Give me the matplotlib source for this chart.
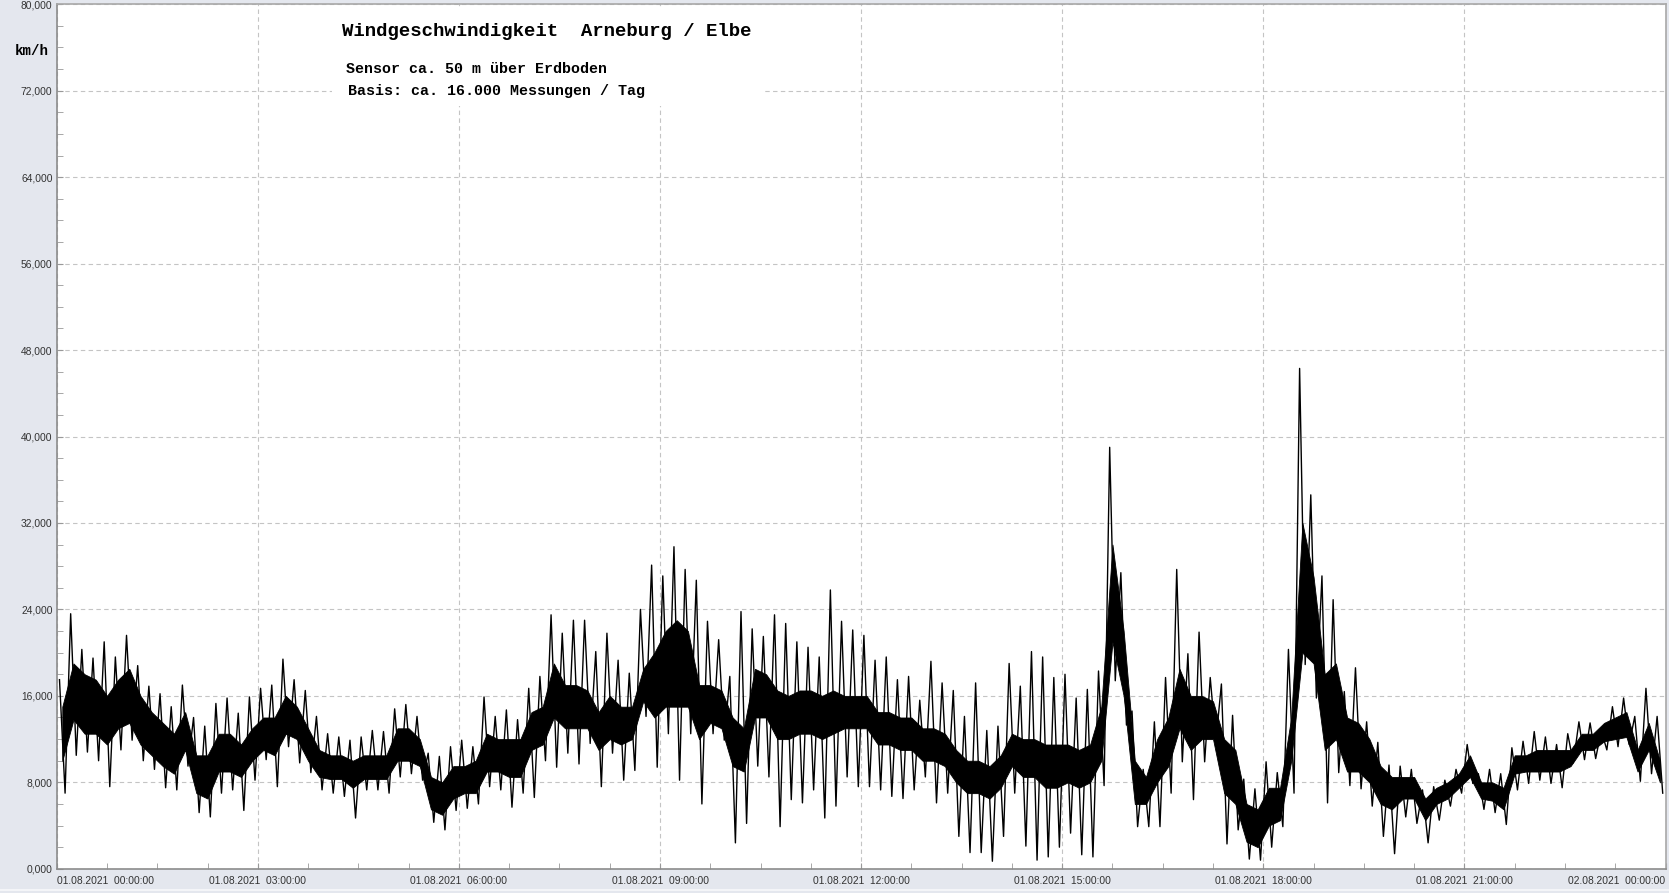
import numpy as np
import matplotlib.pyplot as plt
from matplotlib.patches import Rectangle
from matplotlib.ticker import MultipleLocator, FuncFormatter

# wind speed km/h per 10 minute slot, 01.08.2021 00:00 .. 24:00
# hi / lo: strongest up / down excursions in the slot
hi = [17.5, 23.6, 20.3, 19.5, 21.0, 19.6,
      21.6, 18.8, 16.9, 16.2, 15.0, 17.0,
      14.0, 13.2, 15.3, 15.8, 14.4, 15.9,
      16.7, 17.0, 19.4, 17.5, 16.5, 14.1,
      12.5, 12.2, 11.9, 12.2, 12.8, 12.7,
      14.8, 15.2, 14.1, 10.7, 10.4, 11.3,
      11.9, 11.3, 15.9, 14.1, 14.7, 13.8,
      16.7, 17.8, 23.5, 21.8, 23.0, 23.0,
      20.1, 21.8, 19.3, 18.1, 24.0, 28.1,
      27.1, 29.8, 27.7, 26.7, 22.9, 21.2,
      17.8, 23.8, 22.2, 21.5, 23.5, 22.7,
      21.0, 20.5, 19.6, 25.8, 22.9, 22.1,
      21.6, 19.3, 19.6, 17.5, 17.8, 15.6,
      19.2, 17.2, 16.5, 14.1, 17.2, 12.8,
      13.2, 19.0, 16.9, 20.1, 19.6, 17.7,
      18.0, 15.8, 16.6, 18.3, 39.0, 27.4,
      14.6, 9.2, 13.6, 17.7, 27.7, 19.9,
      21.9, 17.7, 17.1, 14.2, 8.3, 7.4,
      9.9, 8.9, 20.3, 46.3, 34.6, 27.1,
      24.9, 16.4, 18.6, 13.6, 11.7, 9.6,
      9.5, 9.2, 7.3, 7.6, 8.2, 9.2,
      11.5, 8.8, 9.2, 8.8, 11.2, 11.8,
      12.7, 12.2, 11.5, 12.5, 13.6, 13.5,
      12.8, 15.0, 15.8, 14.1, 16.7, 14.1]
lo = [7.0, 10.5, 10.8, 10.0, 7.6, 11.0,
      11.9, 10.0, 9.2, 7.5, 7.3, 9.5,
      5.2, 4.8, 7.0, 7.3, 5.4, 8.2,
      10.1, 7.6, 11.3, 9.8, 8.9, 7.3,
      7.0, 6.7, 4.7, 7.3, 7.3, 7.0,
      8.5, 8.8, 8.2, 4.3, 3.6, 5.4,
      5.6, 6.0, 7.6, 7.3, 5.7, 7.0,
      6.6, 10.0, 9.4, 10.7, 9.7, 11.6,
      7.6, 10.7, 8.2, 9.1, 14.1, 9.4,
      12.5, 8.2, 12.5, 6.0, 12.5, 11.9,
      2.4, 4.2, 9.5, 8.5, 3.9, 6.4,
      6.1, 7.3, 4.7, 5.8, 8.5, 7.6,
      7.6, 7.3, 6.7, 6.5, 7.3, 8.5,
      6.1, 7.0, 3.0, 1.5, 1.5, 0.7,
      3.0, 7.0, 2.1, 0.8, 1.1, 2.0,
      3.3, 1.3, 1.1, 7.7, 17.4, 13.3,
      3.9, 3.9, 3.9, 7.0, 9.9, 6.4,
      9.9, 11.7, 2.3, 3.6, 0.9, 0.8,
      2.0, 3.9, 7.0, 18.9, 15.8, 6.1,
      8.9, 7.7, 7.4, 5.8, 3.0, 1.4,
      4.8, 4.2, 2.4, 4.5, 5.8, 7.0,
      7.9, 5.5, 5.2, 4.1, 7.3, 7.9,
      8.2, 7.9, 7.5, 9.8, 10.1, 10.2,
      11.0, 11.3, 11.5, 8.1, 8.8, 7.0]
# dense core of the signal in each slot
core_hi = [15.0, 19.0, 18.0, 17.5, 16.0, 17.5,
           18.5, 16.0, 14.5, 13.5, 12.5, 14.5,
           10.5, 10.5, 12.5, 12.5, 11.5, 13.0,
           14.0, 14.0, 16.0, 15.0, 13.0, 11.0,
           10.5, 10.5, 10.0, 10.5, 10.5, 10.5,
           13.0, 13.0, 12.0, 8.5, 8.0, 9.5,
           9.5, 10.0, 12.5, 12.0, 12.0, 12.0,
           14.5, 15.0, 19.0, 17.0, 17.0, 16.5,
           14.5, 16.0, 15.0, 15.0, 18.5, 20.0,
           22.0, 23.0, 22.0, 17.0, 17.0, 16.5,
           14.0, 13.0, 18.5, 18.0, 16.5, 16.0,
           16.5, 16.5, 16.0, 16.5, 16.0, 16.0,
           16.0, 14.5, 14.5, 14.0, 14.0, 13.0,
           13.0, 12.5, 11.0, 10.0, 10.0, 9.5,
           10.5, 12.5, 12.0, 12.0, 11.5, 11.5,
           11.5, 11.0, 11.5, 15.0, 30.0, 22.0,
           10.0, 8.5, 12.0, 14.0, 18.5, 16.0,
           16.0, 15.5, 12.0, 11.0, 6.0, 5.5,
           7.5, 7.5, 14.0, 32.0, 27.0, 18.0,
           19.0, 14.0, 13.5, 12.0, 9.5, 8.5,
           8.5, 8.5, 6.5, 7.5, 8.0, 8.8,
           10.5, 8.0, 8.0, 7.5, 10.5, 10.5,
           11.0, 11.0, 11.0, 11.0, 12.5, 12.5,
           13.5, 14.0, 14.5, 11.0, 13.5, 10.0]
core_lo = [10.0, 13.8, 12.5, 12.5, 11.5, 13.0,
           13.5, 11.5, 10.5, 9.5, 8.8, 11.0,
           7.0, 6.5, 9.0, 9.0, 8.5, 10.0,
           11.0, 10.5, 12.5, 12.0, 10.0, 8.5,
           8.3, 8.3, 7.5, 8.3, 8.3, 8.3,
           10.0, 10.0, 9.5, 5.5, 5.0, 6.5,
           7.0, 7.0, 9.0, 9.0, 8.5, 8.5,
           11.0, 11.5, 14.0, 13.0, 13.0, 13.0,
           11.0, 12.0, 11.5, 12.0, 15.5, 14.0,
           15.0, 15.0, 15.0, 12.0, 13.5, 13.0,
           9.5, 9.0, 14.0, 14.0, 12.0, 12.0,
           12.5, 12.5, 12.0, 12.5, 13.0, 13.0,
           13.0, 11.5, 11.5, 11.0, 11.0, 10.0,
           10.0, 9.5, 8.0, 7.0, 7.0, 6.5,
           7.5, 9.5, 8.5, 8.5, 7.5, 7.5,
           8.0, 7.5, 8.0, 10.0, 21.0, 16.0,
           6.0, 6.0, 8.0, 9.5, 13.0, 11.0,
           12.0, 12.0, 7.0, 6.0, 2.5, 2.0,
           4.0, 4.5, 10.0, 20.0, 19.0, 11.0,
           12.0, 9.0, 9.0, 8.0, 6.0, 5.5,
           6.5, 6.5, 4.5, 6.0, 6.5, 7.5,
           8.5, 6.5, 6.3, 5.5, 8.8, 9.0,
           9.0, 9.0, 9.0, 9.5, 11.0, 11.0,
           11.8, 12.0, 12.2, 9.0, 11.0, 8.0]

xlabels = ["01.08.2021  00:00:00", "01.08.2021  03:00:00", "01.08.2021  06:00:00",
           "01.08.2021  09:00:00", "01.08.2021  12:00:00", "01.08.2021  15:00:00",
           "01.08.2021  18:00:00", "01.08.2021  21:00:00", "02.08.2021  00:00:00"]

title = "Windgeschwindigkeit  Arneburg / Elbe"
sub1 = "Sensor ca. 50 m über Erdboden"
sub2 = "Basis: ca. 16.000 Messungen / Tag"

# slot centres in hours, zigzag through the excursions
tc = (np.arange(len(hi)) * 10 + 5) / 60
t = []
v = []
for i in range(len(hi)):
    t += [(i * 10 + 2.5) / 60, (i * 10 + 7.5) / 60]
    v += [hi[i], lo[i]]

W, H = 1669, 893
fig = plt.figure(figsize=(W / 100, H / 100), dpi=100)
fig.patch.set_facecolor('#e4e7ee')
fig.add_artist(Rectangle((0, 2 / H), 1, 2 / H, transform=fig.transFigure,
                         color='#f4f5f8', lw=0))

x0, x1 = 56.7, 1665.5
y0, y1 = 868.8, 4.2
ax = fig.add_axes([x0 / W, 1 - y0 / H, (x1 - x0) / W, (y0 - y1) / H])
ax.set_facecolor('white')

ax.fill_between(tc, core_lo, core_hi, color='k', lw=0.6, zorder=3)
ax.plot(t, v, c='k', lw=1.0, zorder=3)

ax.set_xlim(0, 24)
ax.set_ylim(0, 80)

ax.xaxis.set_minor_locator(MultipleLocator(0.75))
ax.set_xticks(np.arange(0, 25, 3))
ax.set_xticklabels(xlabels)
ax.yaxis.set_major_locator(MultipleLocator(8))
ax.yaxis.set_minor_locator(MultipleLocator(2))
ax.yaxis.set_major_formatter(FuncFormatter(lambda y, p: ('%.3f' % y).replace('.', ',')))

ax.grid(True, which='major', color='#c4c4c4', lw=0.8, ls=(0, (4, 3)))
ax.set_axisbelow(True)

ax.tick_params(which='both', direction='in', color='#999999', labelcolor='#333333',
               labelsize=7.4, top=False, right=False, length=4)
ax.tick_params(axis='x', pad=5)
ax.tick_params(axis='y', pad=3)
for lab in ax.get_xticklabels() + ax.get_yticklabels():
    lab.set_family('Liberation Sans')

xl = ax.get_xticklabels()
xl[0].set_ha('left')
xl[-1].set_ha('right')
yl = ax.get_yticklabels()
yl[0].set_va('bottom')
yl[-1].set_va('top')

for s in ['left', 'bottom']:
    ax.spines[s].set_color('#8c8c8c')
    ax.spines[s].set_linewidth(1.2)
for s in ['top', 'right']:
    ax.spines[s].set_color('#a8a8a8')
    ax.spines[s].set_linewidth(1.2)

# white box behind the heading
def ax_xy(px, py):
    return (px - x0) / (x1 - x0), (y0 - py) / (y0 - y1)

bx, by = ax_xy(332, 106)
bx2, by2 = ax_xy(763, 7)
ax.add_patch(Rectangle((bx, by), bx2 - bx, by2 - by, transform=ax.transAxes,
                       facecolor='white', edgecolor='none', zorder=2))

mono = 'Liberation Mono'
fig.text(342 / W, 1 - 32 / H, title, family=mono, weight='bold', fontsize=13.7,
         va='center', ha='left')
fig.text(346 / W, 1 - 69 / H, sub1, family=mono, weight='bold', fontsize=10.8,
         va='center', ha='left')
fig.text(348 / W, 1 - 90.5 / H, sub2, family=mono, weight='bold', fontsize=10.8,
         va='center', ha='left')
fig.text(15 / W, 1 - 51 / H, "km/h", family=mono, weight='bold', fontsize=10.2,
         va='center', ha='left')

plt.savefig('out.png', dpi=100, facecolor=fig.get_facecolor())
